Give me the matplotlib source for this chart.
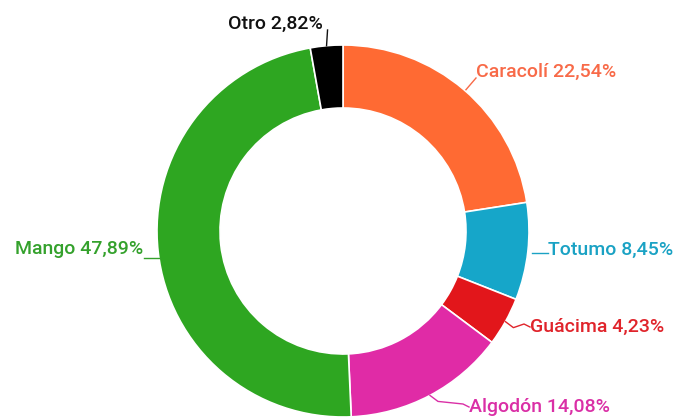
import numpy as np
import matplotlib.pyplot as plt

W, H = 673, 420

# data
labels = ["Caracolí", "Totumo", "Guácima", "Algodón", "Mango", "Otro"]
values = [22.54, 8.45, 4.23, 14.08, 47.89, 2.82]
slice_colors = ["#FF6A33", "#16A6C9", "#E2161B", "#E02BA6", "#2EA621", "#000000"]
text_colors = ["#F86A48", "#1AA2C4", "#E0242B", "#DA2FA6", "#34A12C", "#111111"]

# label text anchor (pixels, y from top)
label_xy = {
    "Caracolí": (476, 72, "left"),
    "Totumo": (548, 250, "left"),
    "Guácima": (530, 327, "left"),
    "Algodón": (469, 407, "left"),
    "Mango": (143, 249, "right"),
    "Otro": (323, 24, "right"),
}

cx, cy, r_out, r_in = 343, 231, 186, 123

fig = plt.figure(figsize=(W / 100, H / 100), dpi=100)
ax = fig.add_axes([0, 0, 1, 1])

wedges, _ = ax.pie(values, colors=slice_colors, startangle=90, counterclock=False,
                   radius=r_out, center=(cx, H - cy),
                   wedgeprops=dict(width=r_out - r_in, edgecolor="white", linewidth=1.2))

ax.set_xlim(0, W)
ax.set_ylim(0, H)
ax.set_aspect("equal")
ax.axis("off")

for w, lab, val, tc in zip(wedges, labels, values, text_colors):
    mid = np.deg2rad((w.theta1 + w.theta2) / 2)
    ax_x = cx + r_out * np.cos(mid)
    ax_y = H - cy + r_out * np.sin(mid)
    tx, ty, ha = label_xy[lab]
    ty = H - ty
    if lab == "Otro":
        path = [(ax_x, ax_y), (ax_x + 1, ty - 6)]
    elif lab == "Mango":
        ly = ty - 9
        edge_x = cx - np.sqrt(r_out ** 2 - (ly - (H - cy)) ** 2)
        path = [(edge_x + 1, ly), (tx + 1, ly)]
    elif lab == "Caracolí":
        path = [(ax_x + 2, ax_y), (tx, ty - 6)]
    elif lab == "Totumo":
        path = [(ax_x + 4, ty - 3), (tx, ty - 3)]
    else:
        path = [(ax_x, ax_y), (ax_x + 8, ax_y - 6), (tx - 6, ty + 3), (tx, ty)]
    xs, ys = zip(*path)
    ax.plot(xs, ys, color=tc, lw=1)
    ax.text(tx, ty, f"{lab} {val:.2f}%".replace(".", ","), color=tc, ha=ha, va="center",
            fontsize=14, fontfamily="Roboto", fontweight="medium")

fig.savefig("out.png", dpi=100)
